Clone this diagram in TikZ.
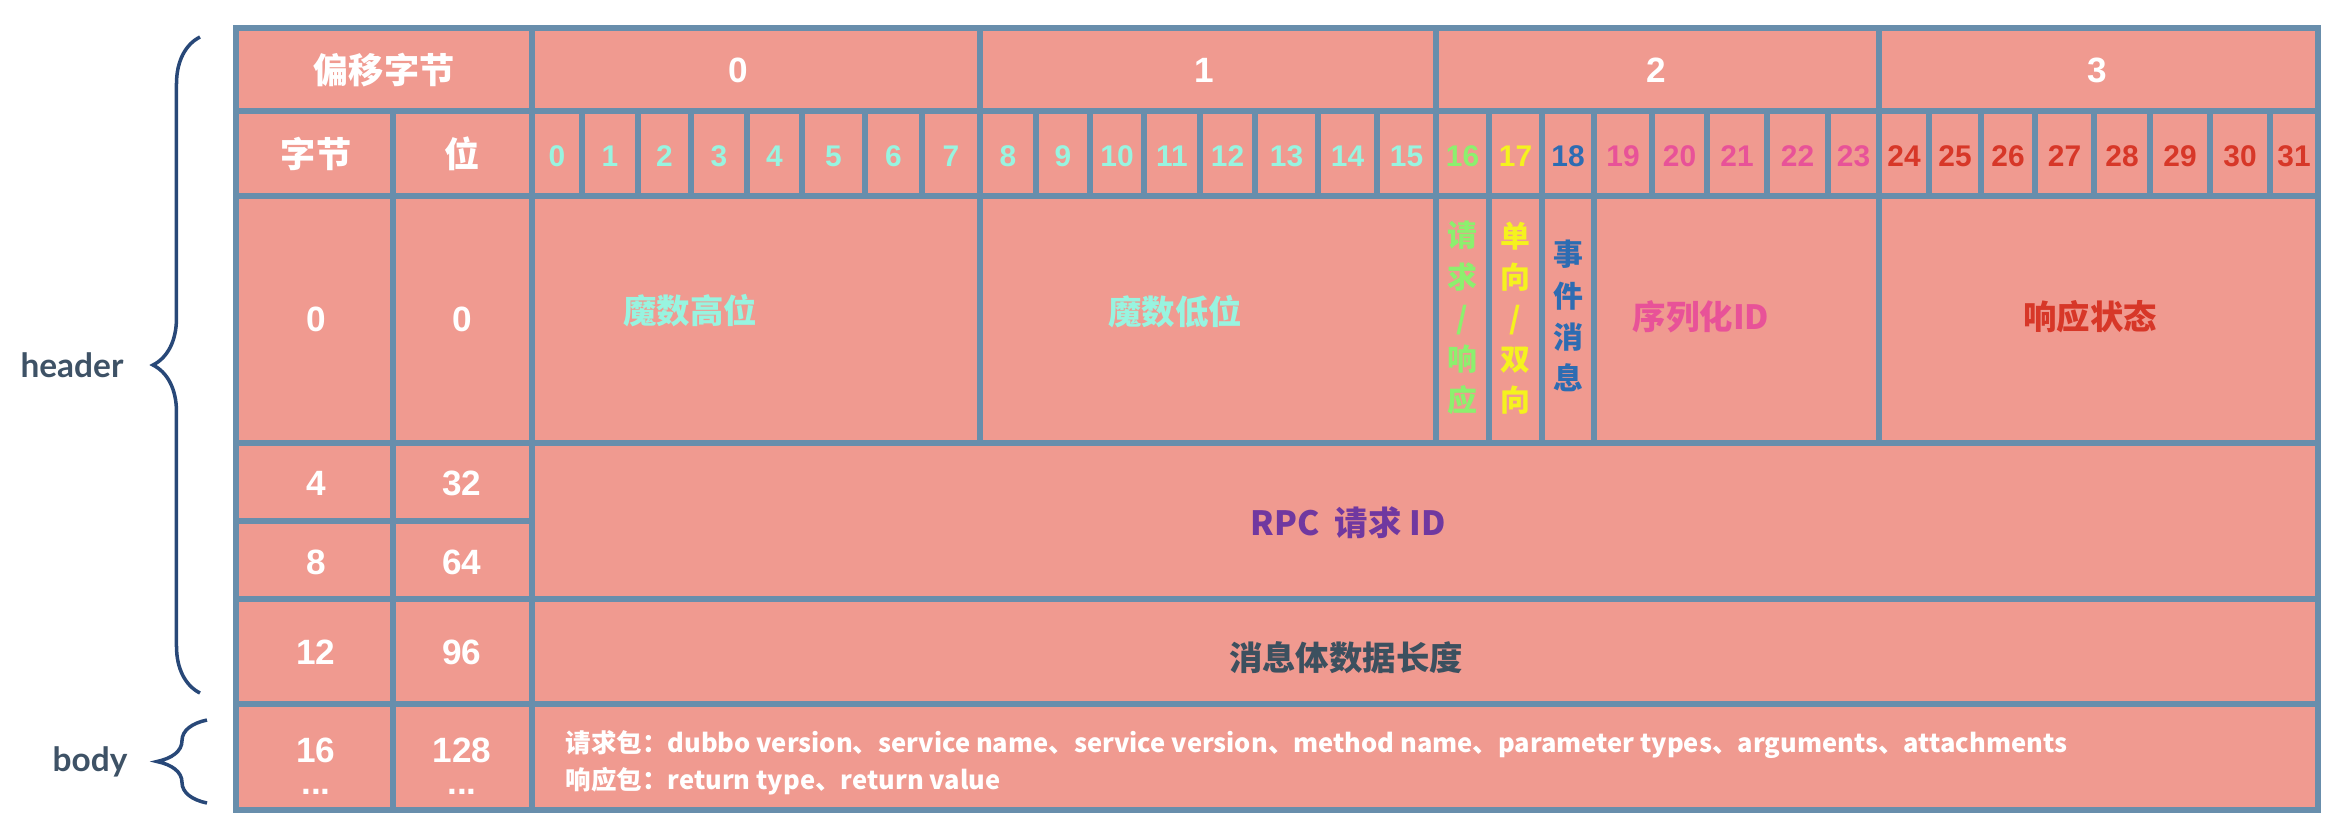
\documentclass[tikz,border=0pt]{standalone}
\usepackage{fontspec}
\setmainfont{Liberation Sans}
\newfontfamily\cjk{Noto Sans CJK SC}
\newfontfamily\lbl{Lato}
\usetikzlibrary{decorations.pathreplacing}

\definecolor{salmon}{RGB}{240,154,144}
\definecolor{gridline}{RGB}{104,142,172}
\definecolor{aqua}{RGB}{152,244,224}
\definecolor{lime}{RGB}{140,240,110}
\definecolor{lemon}{RGB}{245,242,30}
\definecolor{evtblue}{RGB}{45,108,178}
\definecolor{pink}{RGB}{232,82,152}
\definecolor{redish}{RGB}{215,55,40}
\definecolor{purple}{RGB}{112,56,160}
\definecolor{slate}{RGB}{60,80,95}
\definecolor{labeldark}{RGB}{62,82,102}
\definecolor{bracecol}{RGB}{40,72,120}

\begin{document}
\begin{tikzpicture}[x=0.01cm, y=-0.01cm]
    \tikzstyle{grid}=[draw=gridline, line width=1.7pt]
    \tikzstyle{head}=[text=white, inner sep=0pt, font=\bfseries\fontsize{10}{12}\selectfont]
    \tikzstyle{cjk head}=[head, font=\cjk\bfseries\fontsize{10}{12}\selectfont]
    \tikzstyle{bit}=[inner sep=0pt, font=\bfseries\fontsize{8.5}{10}\selectfont]
    \tikzstyle{field}=[inner sep=0pt, font=\cjk\bfseries\fontsize{9.5}{11}\selectfont]
    \tikzstyle{flag}=[inner sep=0pt, align=center, font=\cjk\bfseries\fontsize{8.5}{11.7}\selectfont]
    \tikzstyle{side}=[text=labeldark, inner sep=0pt, font=\lbl\bfseries\fontsize{9.5}{11}\selectfont]
    \tikzstyle{brace line}=[draw=bracecol, line width=1pt, decorate]
    \tikzstyle{body text}=[inner sep=0pt, anchor=west, text=white, font=\cjk\bfseries\fontsize{7.25}{9}\selectfont]

    \useasboundingbox (0,0) rectangle (2344,832);

    % Table background
    \fill[salmon] (236,28) rectangle (2318,810);

    % Horizontal lines
    \foreach \y in {111,196,443,599,704}
        \draw[grid] (236,\y) -- (2318,\y);
    \draw[grid] (236,521) -- (532,521);

    % Vertical lines
    \draw[grid] (393,111) -- (393,810);
    \draw[grid] (532,28) -- (532,810);
    \foreach \x in {980,1436,1879}
        \draw[grid] (\x,28) -- (\x,443);
    \foreach \x in {1489,1542,1594}
        \draw[grid] (\x,111) -- (\x,443);
    \draw[grid] (236,28) rectangle (2318,810);

    % Header row
    \node[cjk head] (off) at (384,70) {偏移字节};
    \foreach \name / \x in {0/738,1/1204,2/1656,3/2097}
        \node[head] (B-\name) at (\x,70) {\name};

    % Bit row
    \node[cjk head] (byte) at (316,154) {字节};
    \node[cjk head] (bit) at (462,154) {位};
    \foreach \name / \xa / \xb / \col in {0/532/582/aqua,1/582/638/aqua,2/638/691/aqua,
        3/691/747/aqua,4/747/802/aqua,5/802/865/aqua,6/865/922/aqua,7/922/980/aqua,
        8/980/1036/aqua,9/1036/1090/aqua,10/1090/1144/aqua,11/1144/1200/aqua,
        12/1200/1255/aqua,13/1255/1318/aqua,14/1318/1377/aqua,15/1377/1436/aqua,
        16/1436/1489/lime,17/1489/1542/lemon,18/1542/1594/evtblue,
        19/1594/1652/pink,20/1652/1707/pink,21/1707/1767/pink,22/1767/1828/pink,
        23/1828/1879/pink,24/1879/1929/redish,25/1929/1981/redish,26/1981/2035/redish,
        27/2035/2094/redish,28/2094/2150/redish,29/2150/2210/redish,30/2210/2270/redish,
        31/2270/2318/redish}
    {
        \node[bit, text=\col] (b-\name) at ({(\xa+\xb)/2},156) {\name};
        \ifnum\name<31 \draw[grid] (\xb,111) -- (\xb,196); \fi
    }

    % Offsets in bytes and bits
    \foreach \name / \y / \byte / \bits in {0/319/0/0,4/483/4/32,8/562/8/64,12/652/12/96,16/750/16/128}
    {
        \node[head] (o-\name) at (316,\y) {\byte};
        \node[head] (p-\name) at (462,\y) {\bits};
    }
    \node[head] (o-more) at (316,792) {...};
    \node[head] (p-more) at (462,792) {...};

    % Fields
    \node[field, text=aqua] (magic-hi) at (690,311) {魔数高位};
    \node[field, text=aqua] (magic-lo) at (1175,312) {魔数低位};
    \node[flag, text=lime] (req) at (1462,318) {请\\求\\/\\响\\应};
    \node[flag, text=lemon] (way) at (1515,318) {单\\向\\/\\双\\向};
    \node[flag, text=evtblue] (evt) at (1568,316) {事\\件\\消\\息};
    \node[field, text=pink] (ser) at (1701,317) {序列化ID};
    \node[field, text=redish] (status) at (2090,317) {响应状态};
    \node[field, text=purple] (rid) at (1348,523) {RPC\ \ 请求 ID};
    \node[field, text=slate] (len) at (1346,658) {消息体数据长度};

    % Body
    \node[body text] (req-body) at (565,745)
        {请求包：dubbo version、service name、service version、method name、parameter types、arguments、attachments};
    \node[body text] (resp-body) at (565,781) {响应包：return type、return value};

    % Braces
    \draw[brace line, decoration={brace, amplitude=0.47cm}] (200,693) -- (200,37);
    \draw[brace line, decoration={brace, amplitude=0.5cm}] (207,803) -- (207,720);
    \node[side] (header) at (72,365) {header};
    \node[side] (body) at (90,762) {body};
\end{tikzpicture}
\end{document}
